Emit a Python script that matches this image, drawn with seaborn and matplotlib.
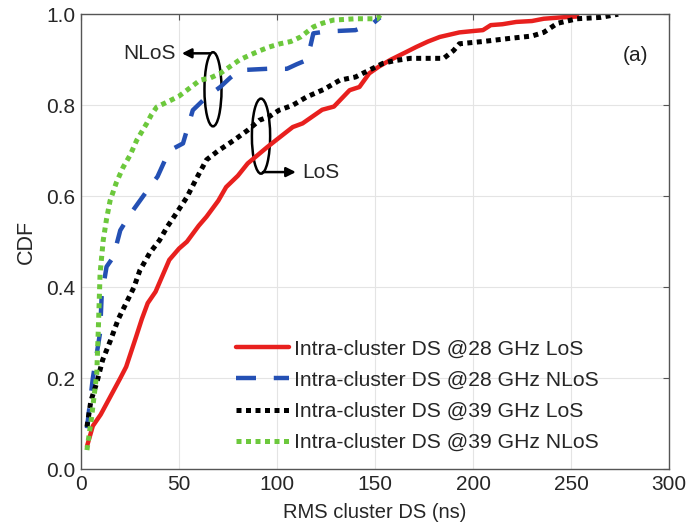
import matplotlib
matplotlib.use("Agg")
import matplotlib.pyplot as plt
import pandas as pd
import seaborn as sns
from matplotlib.patches import Ellipse

# CDF curves (x in ns, y = CDF)
los28_x = [3, 6, 10, 15, 20, 23, 28, 31, 34, 38, 40, 43, 45, 50, 54, 60, 64, 70, 74, 80,
           85, 90, 95, 100, 108, 113, 118, 123, 129, 133, 137, 142, 147, 152, 158, 165,
           171, 177, 183, 188, 193, 200, 205, 209, 215, 222, 230, 236, 245, 253, 253]
los28_y = [0.05, 0.095, 0.12, 0.16, 0.2, 0.225, 0.29, 0.33, 0.365, 0.39, 0.41, 0.44, 0.46,
           0.485, 0.50, 0.535, 0.555, 0.59, 0.62, 0.645, 0.672, 0.69, 0.708, 0.725, 0.752,
           0.76, 0.775, 0.79, 0.797, 0.815, 0.833, 0.84, 0.87, 0.885, 0.90, 0.915, 0.928,
           0.94, 0.95, 0.955, 0.96, 0.963, 0.965, 0.976, 0.978, 0.983, 0.985, 0.99, 0.993,
           0.995, 1.0]

nlos28_x = [3, 6, 9.7, 10.5, 13, 16.4, 20, 25, 30, 35, 39, 45, 52, 55, 57, 64, 71, 76, 81,
            95, 105, 110, 115, 117, 118.5, 125, 140, 149, 152.5]
nlos28_y = [0.09, 0.2, 0.3, 0.38, 0.445, 0.466, 0.525, 0.56, 0.59, 0.62, 0.643, 0.70, 0.716,
            0.76, 0.789, 0.818, 0.84, 0.86, 0.877, 0.88, 0.88, 0.89, 0.899, 0.93, 0.958,
            0.962, 0.965, 0.98, 0.993]

los39_x = [3, 5, 8, 11, 15, 19, 23, 27, 30, 35, 40, 44, 49, 54, 59, 64, 70, 78, 85, 91, 96,
           101, 108, 115, 124, 132, 140, 147, 154, 160, 168, 185, 190, 193, 205, 219, 230,
           236, 243, 253, 265, 274]
los39_y = [0.093, 0.15, 0.19, 0.24, 0.283, 0.33, 0.365, 0.40, 0.437, 0.475, 0.503, 0.533,
           0.565, 0.598, 0.64, 0.68, 0.70, 0.723, 0.745, 0.767, 0.775, 0.789, 0.80, 0.818,
           0.835, 0.855, 0.862, 0.877, 0.892, 0.898, 0.903, 0.903, 0.92, 0.935, 0.94,
           0.947, 0.952, 0.96, 0.98, 0.99, 0.993, 1.0]

nlos39_x = [3, 5.4, 8, 8.9, 9.7, 11.3, 13, 14.8, 18, 21.5, 25, 28.4, 33.5, 36, 38.6, 45.4,
            50, 54, 60.7, 66, 71, 76, 81, 86, 91.3, 96, 101.5, 107, 112, 118.5, 123, 128.6,
            140, 151, 153]
nlos39_y = [0.042, 0.115, 0.21, 0.32, 0.43, 0.503, 0.55, 0.59, 0.63, 0.664, 0.69, 0.723,
            0.76, 0.78, 0.796, 0.81, 0.82, 0.833, 0.855, 0.86, 0.87, 0.885, 0.90, 0.91,
            0.92, 0.928, 0.935, 0.94, 0.95, 0.972, 0.98, 0.987, 0.99, 0.99, 1.0]

labels = ["Intra-cluster DS @28 GHz LoS", "Intra-cluster DS @28 GHz NLoS",
          "Intra-cluster DS @39 GHz LoS", "Intra-cluster DS @39 GHz NLoS"]
x_ticks = [0, 50, 100, 150, 200, 250, 300]
y_ticks = [0.0, 0.2, 0.4, 0.6, 0.8, 1.0]

sns.set_style("whitegrid")
plt.rcParams["font.family"] = ["Liberation Sans", "DejaVu Sans"]

fig = plt.figure(figsize=(6.87, 5.26), dpi=100)
ax = fig.add_axes([0.118, 0.108, 0.856, 0.865])

series = [
    (los28_x, los28_y, "#e8201e", "-", 3.2),
    (nlos28_x, nlos28_y, "#2450b4", (0, (4.5, 4)), 3.2),
    (los39_x, los39_y, "#000000", (0, (1, 0.9)), 3.6),
    (nlos39_x, nlos39_y, "#6cc83c", (0, (1, 0.9)), 3.6),
]
for (xs, ys, color, ls, lw), lab in zip(series, labels):
    df = pd.DataFrame({"x": xs, "y": ys})
    sns.lineplot(data=df, x="x", y="y", ax=ax, color=color, linestyle=ls, linewidth=lw,
                 estimator=None, sort=False, label=lab)

ax.set_xlim(0, 300)
ax.set_ylim(0, 1)
ax.set_xticks(x_ticks)
ax.set_yticks(y_ticks)
ax.set_yticklabels([f"{v:.1f}" for v in y_ticks])
ax.set_xlabel("RMS cluster DS (ns)", fontsize=14.5, labelpad=7)
ax.set_ylabel("CDF", fontsize=15.5, labelpad=7)
ax.tick_params(direction="in", top=True, right=True, length=4, labelsize=15,
               color="#555555", pad=4)
ax.grid(color="#e4e4e4", linewidth=0.8)
for sp in ax.spines.values():
    sp.set_color("#555555")
    sp.set_linewidth(1.0)

# NLoS / LoS group annotations
ax.add_patch(Ellipse((67.3, 0.835), 8.7, 0.163, fill=False, edgecolor="black", lw=1.8))
ax.add_patch(Ellipse((91.8, 0.732), 9.3, 0.165, fill=False, edgecolor="black", lw=1.8))
ax.annotate("", xy=(50, 0.914), xytext=(67.3, 0.914),
            arrowprops=dict(arrowstyle="-|>", color="black", lw=1.8, mutation_scale=14))
ax.annotate("", xy=(111, 0.653), xytext=(91.3, 0.653),
            arrowprops=dict(arrowstyle="-|>", color="black", lw=1.8, mutation_scale=14))
ax.text(48.5, 0.914, "NLoS", fontsize=15, ha="right", va="center")
ax.text(113, 0.653, "LoS", fontsize=15, ha="left", va="center")
ax.text(283, 0.91, "(a)", fontsize=15, ha="center", va="center", color="#222222")

ax.legend(loc="lower left", bbox_to_anchor=(0.238, 0.005), frameon=False, fontsize=15.2,
          handlelength=2.5, handletextpad=0.25, labelspacing=0.58, borderaxespad=0.3)

fig.savefig("out.png", dpi=100)
